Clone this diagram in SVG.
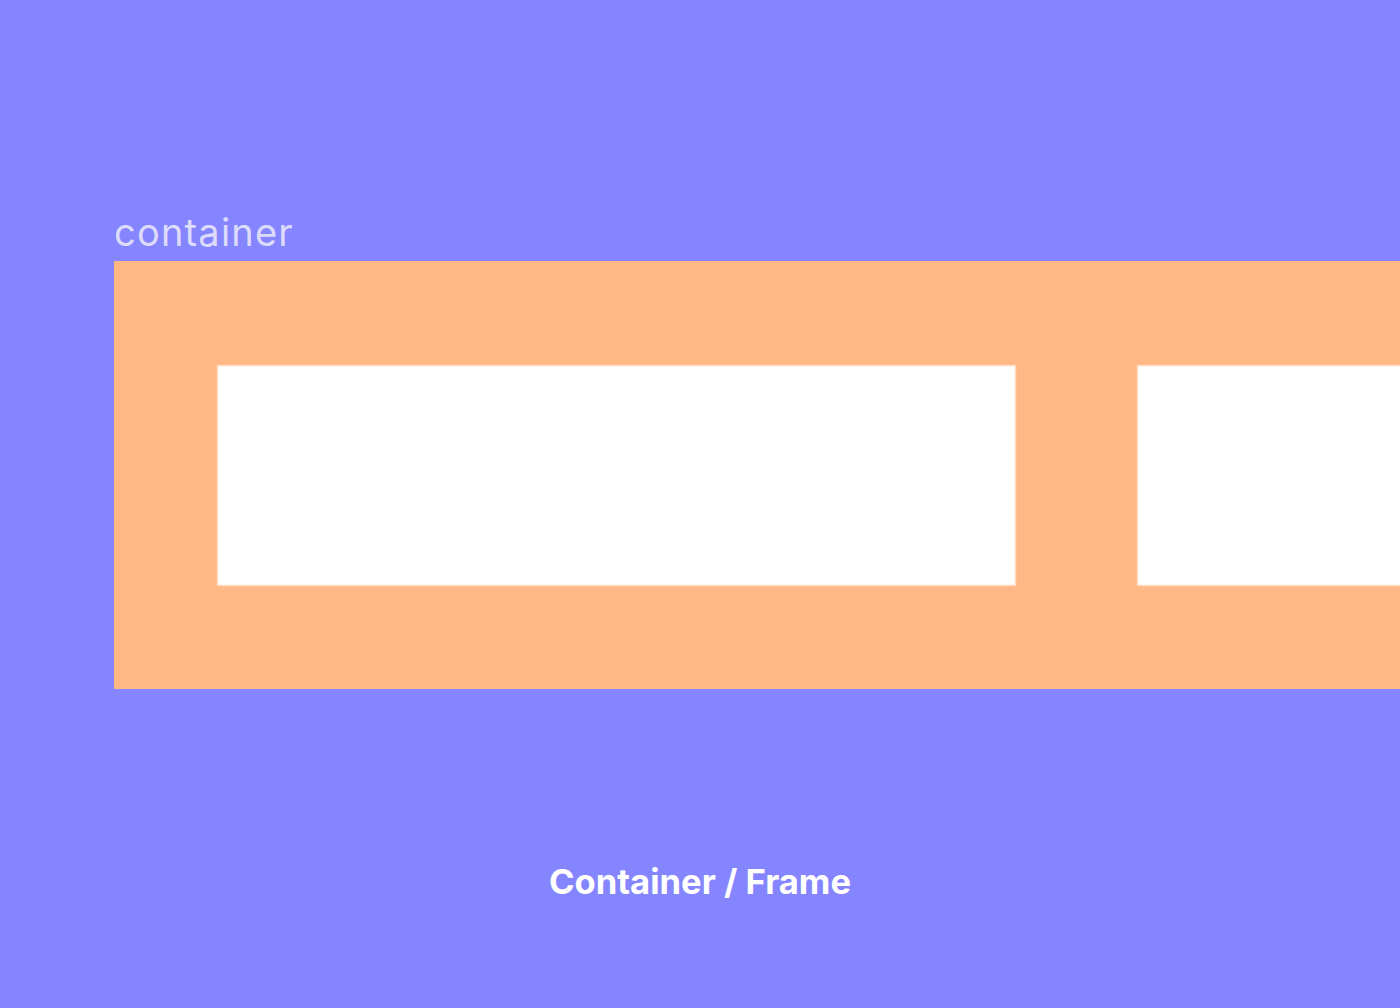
<svg xmlns="http://www.w3.org/2000/svg" width="1400" height="1008" viewBox="0 0 1400 1008">
<style>
.lbl{font-family:Inter,"Liberation Sans",sans-serif;fill:#DCDCFA;font-size:38px;letter-spacing:1.2px}
.title{font-family:Inter,"Liberation Sans",sans-serif;fill:#FFFFFF;font-size:34.6px;font-weight:700}
.item{fill:#FFFFFF;stroke:#FFD9C0;stroke-width:1.5}
</style>
<rect x="0" y="0" width="1400" height="1008" fill="#8585FF"/>
<g id="container">
<text class="lbl" x="114" y="246">container</text>
<rect x="114" y="261" width="1290" height="428" fill="#FFB785"/>
</g>
<g id="item1"><rect class="item" x="217.5" y="365.5" width="798" height="220"/></g>
<g id="item2"><rect class="item" x="1137.5" y="365.5" width="270" height="220"/></g>
<g id="connectors"></g>
<text class="title" x="700" y="894" text-anchor="middle">Container / Frame</text>
</svg>
